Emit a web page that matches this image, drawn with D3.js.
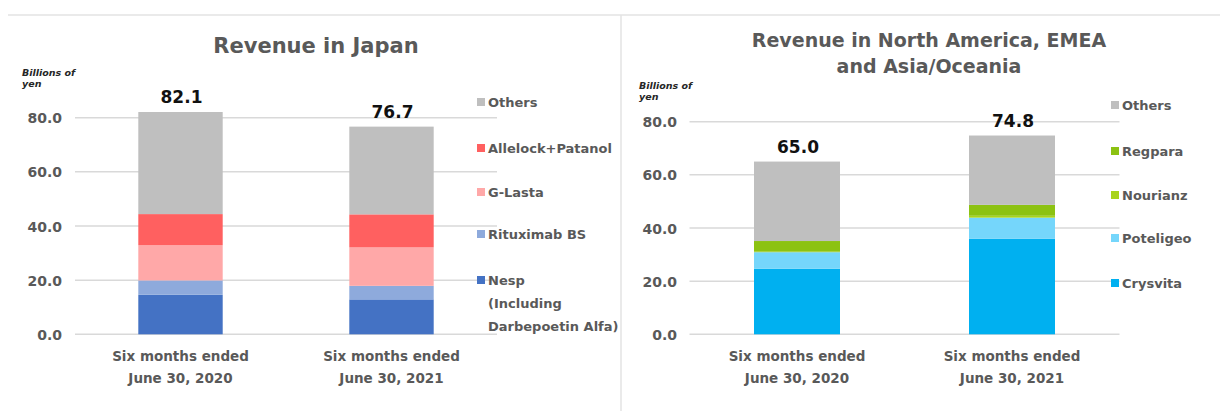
<!DOCTYPE html>
<html>
<head>
<meta charset="utf-8">
<script src="https://cdn.jsdelivr.net/npm/d3@7/dist/d3.min.js"></script>
<style>
  html, body { margin: 0; padding: 0; background: #fff; }
  svg { display: block; }
  text { font-family: "DejaVu Sans", Verdana, sans-serif; }
</style>
</head>
<body>
<svg id="chart" width="1220" height="411"></svg>
<script>
// ---- Data ----
const categories = [["Six months ended", "June 30, 2020"], ["Six months ended", "June 30, 2021"]];
const yTicks = [0, 20, 40, 60, 80];

// Japan (bottom to top)
const japanSeries = ["Nesp", "Rituximab BS", "G-Lasta", "Allelock+Patanol", "Others"];
const japanNesp      = [14.6, 12.9];
const japanRituximab = [5.3, 5.0];
const japanGLasta    = [13.0, 14.2];
const japanAllelock  = [11.5, 12.2];
const japanOthers    = [37.7, 32.4];
const japanColors = ["#4472c4", "#8eaadc", "#ffa8a8", "#ff6060", "#bfbfbf"];
const japanLegend = [["Others"], ["Allelock+Patanol"], ["G-Lasta"], ["Rituximab BS"], ["Nesp", "(Including", "Darbepoetin Alfa)"]];

// North America, EMEA and Asia/Oceania (bottom to top)
const intlSeries = ["Crysvita", "Poteligeo", "Nourianz", "Regpara", "Others"];
const intlCrysvita  = [24.7, 36.0];
const intlPoteligeo = [6.2, 7.9];
const intlNourianz  = [0.2, 0.7];
const intlRegpara   = [4.0, 4.1];
const intlOthers    = [29.9, 26.1];
const intlColors = ["#00b0f0", "#75d6fb", "#a8d41c", "#8cc212", "#bfbfbf"];
const intlLegend = [["Others"], ["Regpara"], ["Nourianz"], ["Poteligeo"], ["Crysvita"]];

const svg = d3.select("#chart");
const textGray = "#595959";

// frame
svg.append("line").attr("x1", 8).attr("x2", 1220).attr("y1", 15).attr("y2", 15)
  .attr("stroke", "#e3e3e3").attr("stroke-width", 1.5);
svg.append("line").attr("x1", 621).attr("x2", 621).attr("y1", 15).attr("y2", 411)
  .attr("stroke", "#e3e3e3").attr("stroke-width", 1.5);

function drawPanel(cfg) {
  const g = svg.append("g");
  const x = d3.scaleBand().domain(d3.range(categories.length)).range([cfg.x0, cfg.x1]).paddingInner(0.6).paddingOuter(0.3);
  const y = d3.scaleLinear().domain([0, 80]).range([cfg.yBottom, cfg.yTop]);

  // gridlines
  g.selectAll(".grid").data(yTicks).join("line")
    .attr("x1", cfg.x0).attr("x2", cfg.x1)
    .attr("y1", d => y(d)).attr("y2", d => y(d))
    .attr("stroke", "#d9d9d9").attr("stroke-width", 1.5);

  // y axis labels via d3 axis
  const yAxis = d3.axisLeft(y).tickValues(yTicks).tickFormat(d3.format(".1f")).tickSize(0).tickPadding(0);
  const ya = g.append("g").attr("transform", `translate(${cfg.tickRight},0)`).call(yAxis);
  ya.select(".domain").remove();
  ya.selectAll("text").attr("fill", textGray).attr("font-size", 14).attr("font-weight", "bold")
    .attr("font-family", "DejaVu Sans").attr("dy", "0.36em");

  // stacks
  const rows = categories.map((c, i) => {
    const o = { i };
    cfg.series.forEach((s, k) => { o[s] = cfg.values[k][i]; });
    return o;
  });
  const stack = d3.stack().keys(cfg.series)(rows);
  stack.forEach((layer, k) => {
    g.selectAll(".bar" + k).data(layer).join("rect")
      .attr("x", d => x(d.data.i))
      .attr("width", x.bandwidth())
      .attr("y", d => y(d[1]))
      .attr("height", d => y(d[0]) - y(d[1]))
      .attr("fill", cfg.colors[k]);
  });

  // totals
  rows.forEach((r, i) => {
    const total = d3.sum(cfg.series, s => r[s]);
    g.append("text").attr("x", x(i) + x.bandwidth() / 2 + 1).attr("y", y(total) - 9)
      .attr("text-anchor", "middle").attr("font-size", 17).attr("font-weight", "bold")
      .attr("fill", "#111").text(d3.format(".1f")(total));
  });

  // x labels
  const xAxis = d3.axisBottom(x).tickSize(0).tickFormat(() => "");
  const xa = g.append("g").attr("transform", `translate(0,${cfg.yBottom})`).call(xAxis);
  xa.select(".domain").remove();
  xa.selectAll(".tick").each(function(d) {
    const t = d3.select(this).append("text").attr("text-anchor", "middle")
      .attr("fill", textGray).attr("font-size", 13.5).attr("font-weight", "bold");
    categories[d].forEach((line, j) => {
      t.append("tspan").attr("x", 0).attr("y", 27 + j * 22).text(line);
    });
  });

  // unit label
  const u = g.append("text").attr("x", cfg.unitX).attr("y", cfg.unitY)
    .attr("font-size", 9.5).attr("font-weight", "bold").attr("font-style", "italic").attr("fill", "#262626");
  u.append("tspan").attr("x", cfg.unitX).text("Billions of");
  u.append("tspan").attr("x", cfg.unitX).attr("dy", 11).text("yen");

  // title
  const tt = g.append("text").attr("text-anchor", "middle").attr("fill", textGray)
    .attr("font-size", cfg.titleSize).attr("font-weight", "bold");
  cfg.title.forEach((line, j) => {
    tt.append("tspan").attr("x", cfg.titleX).attr("y", cfg.titleY + j * 26).text(line);
  });

  // legend
  const legendColors = cfg.colors.slice().reverse();
  cfg.legend.forEach((lines, k) => {
    const cy = cfg.legendY[k];
    g.append("rect").attr("x", cfg.legendX).attr("y", cy - 4).attr("width", 8).attr("height", 8)
      .attr("fill", legendColors[k]);
    lines.forEach((line, j) => {
      g.append("text").attr("x", cfg.legendX + 11).attr("y", cy + j * 23).attr("dy", "0.36em")
        .attr("fill", textGray).attr("font-size", 13).attr("font-weight", "bold").text(line);
    });
  });
}

drawPanel({
  x0: 75, x1: 497, yBottom: 334.3, yTop: 117.7, tickRight: 62,
  series: japanSeries,
  values: [japanNesp, japanRituximab, japanGLasta, japanAllelock, japanOthers],
  colors: japanColors, legend: japanLegend,
  legendX: 477, legendY: [102, 148, 192, 234, 280],
  unitX: 22, unitY: 76,
  title: ["Revenue in Japan"], titleX: 316, titleY: 53, titleSize: 21
});

drawPanel({
  x0: 689.5, x1: 1119.5, yBottom: 334.3, yTop: 121.7, tickRight: 677,
  series: intlSeries,
  values: [intlCrysvita, intlPoteligeo, intlNourianz, intlRegpara, intlOthers],
  colors: intlColors, legend: intlLegend,
  legendX: 1111, legendY: [105, 151, 195, 238, 283],
  unitX: 639, unitY: 89,
  title: ["Revenue in North America, EMEA", "and Asia/Oceania"], titleX: 929, titleY: 47, titleSize: 19
});
</script>
</body>
</html>
